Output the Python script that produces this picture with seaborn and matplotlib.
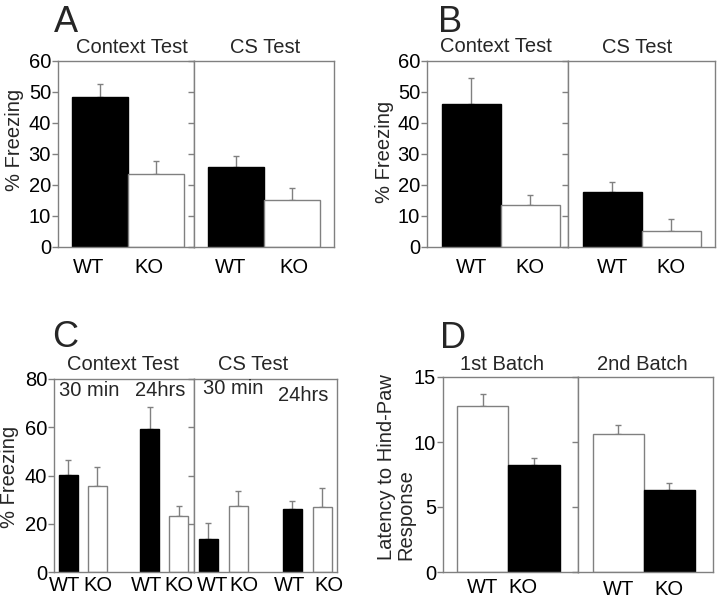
import numpy as np
import pandas as pd
import matplotlib
matplotlib.use("Agg")
import matplotlib.pyplot as plt
import seaborn as sns

# ---------------- data ----------------
genotypes2 = ["WT", "KO"]
genotypes4 = ["WT", "KO", "WT", "KO"]

a_context_vals = [48.4, 23.4]
a_context_err = [4.3, 4.2]
a_cs_vals = [25.8, 15.0]
a_cs_err = [3.5, 3.9]

b_context_vals = [46.0, 13.4]
b_context_err = [8.4, 3.5]
b_cs_vals = [17.6, 5.1]
b_cs_err = [3.4, 3.8]

c_context_vals = [40.1, 35.8, 59.4, 23.2]
c_context_err = [6.2, 7.9, 8.8, 4.2]
c_cs_vals = [13.6, 27.4, 26.3, 26.8]
c_cs_err = [6.7, 6.2, 3.2, 8.0]

d_batch1_vals = [12.75, 8.25]
d_batch1_err = [0.95, 0.5]
d_batch2_vals = [10.65, 6.33]
d_batch2_err = [0.62, 0.52]

# ---------------- style ----------------
sns.set_theme(style="white")
plt.rcParams["font.family"] = ["Liberation Sans", "DejaVu Sans"]
GRAY = "#808080"
FS = 14.5

W, H = 720, 604
fig = plt.figure(figsize=(W / 100, H / 100), dpi=100)


def add_ax(l, r, t, b):
    return fig.add_axes([l / W, 1 - b / H, (r - l) / W, (b - t) / H])


def draw(ax, vals, errs, genos, pos, width, palette, xlim, ylim, yticks,
         show_labels, title, title_x, title_pad, xpad, label_shift=None):
    df = pd.DataFrame({"x": pos, "y": vals, "g": genos})
    sns.barplot(data=df, x="x", y="y", hue="g", palette=palette,
                native_scale=True, dodge=False, width=width, errorbar=None,
                edgecolor="black", linewidth=1.0, legend=False, ax=ax,
                zorder=2)
    for p in ax.patches:
        fc = p.get_facecolor()
        if fc[0] > 0.5:
            p.set_edgecolor(GRAY)
    ax.errorbar(pos, vals, yerr=[np.zeros(len(vals)), errs], fmt="none",
                ecolor=GRAY, elinewidth=1.0, capsize=2.5, capthick=1.0,
                zorder=1.5)
    ax.set_xlim(*xlim)
    ax.set_ylim(*ylim)
    ax.set_yticks(yticks)
    tick_pos = np.asarray(pos, dtype=float)
    if label_shift is not None:
        tick_pos = tick_pos + np.asarray(label_shift)
    ax.set_xticks(tick_pos)
    ax.set_xticklabels(genos)
    ax.set_xlabel("")
    ax.set_ylabel("")
    ax.tick_params(axis="x", length=0, labelsize=FS, pad=xpad, colors="black")
    ax.tick_params(axis="y", left=True, direction="out", length=4, width=1,
                   color=GRAY, labelsize=FS, pad=1, labelleft=show_labels,
                   labelcolor="black")
    for s in ax.spines.values():
        s.set_visible(True)
        s.set_color(GRAY)
        s.set_linewidth(1.0)
    ax.set_title(title, fontsize=FS, x=title_x, pad=title_pad)


pal_ab = {"WT": "black", "KO": "white"}
pos2 = [0, 1]
pos4 = [0, 1, 2.8, 3.8]

# ---------------- Panel A ----------------
a1 = add_ax(58, 194, 61, 247)
a2 = add_ax(194, 334, 61, 247)
draw(a1, a_context_vals, a_context_err, genotypes2, pos2, 1.0, pal_ab,
     (-0.75, 1.68), (0, 60), np.arange(0, 61, 10), True, "Context Test", 0.54, 6, 8,
     [-0.2, -0.12])
draw(a2, a_cs_vals, a_cs_err, genotypes2, pos2, 1.0, pal_ab,
     (-0.75, 1.75), (0, 60), np.arange(0, 61, 10), False, "CS Test", 0.51, 6, 8,
     [-0.1, 0.03])
fig.text(15 / W, 1 - 140 / H, "% Freezing", rotation=90, ha="center",
         va="center", fontsize=FS)
fig.text(54 / W, 1 - 32 / H, "A", fontsize=26, va="baseline", ha="left")

# ---------------- Panel B ----------------
b1 = add_ax(427, 568, 61, 247)
b2 = add_ax(568, 715, 61, 247)
draw(b1, b_context_vals, b_context_err, genotypes2, pos2, 1.0, pal_ab,
     (-0.75, 1.64), (0, 60), np.arange(0, 61, 10), True, "Context Test", 0.49, 6.5, 8)
draw(b2, b_cs_vals, b_cs_err, genotypes2, pos2, 1.0, pal_ab,
     (-0.75, 1.74), (0, 60), np.arange(0, 61, 10), False, "CS Test", 0.47, 6, 8)
fig.text(385 / W, 1 - 152 / H, "% Freezing", rotation=90, ha="center",
         va="center", fontsize=FS)
fig.text(438 / W, 1 - 32 / H, "B", fontsize=26, va="baseline", ha="left")

# ---------------- Panel C ----------------
c1 = add_ax(54, 194, 379, 572)
c2 = add_ax(194, 337, 379, 572)
draw(c1, c_context_vals, c_context_err, genotypes4, pos4, 0.65, pal_ab,
     (-0.5, 4.33), (0, 80), np.arange(0, 81, 20), True, "Context Test", 0.49, 6.5, 3,
     [-0.12, 0.0, -0.09, 0.0])
draw(c2, c_cs_vals, c_cs_err, genotypes4, pos4, 0.65, pal_ab,
     (-0.48, 4.29), (0, 80), np.arange(0, 81, 20), False, "CS Test", 0.41, 6.5, 3,
     [0.13, 0.18, -0.08, 0.22])
c1.text(0.25, 0.938, "30 min", transform=c1.transAxes, ha="center", va="center", fontsize=FS)
c1.text(0.757, 0.938, "24hrs", transform=c1.transAxes, ha="center", va="center", fontsize=FS)
c2.text(0.273, 0.95, "30 min", transform=c2.transAxes, ha="center", va="center", fontsize=FS)
c2.text(0.762, 0.917, "24hrs", transform=c2.transAxes, ha="center", va="center", fontsize=FS)
fig.text(10 / W, 1 - 477 / H, "% Freezing", rotation=90, ha="center",
         va="center", fontsize=FS)
fig.text(52 / W, 1 - 347 / H, "C", fontsize=26, va="baseline", ha="left")

# ---------------- Panel D ----------------
pal_d = {"WT": "white", "KO": "black"}
d1 = add_ax(443, 578, 377, 572)
d2 = add_ax(578, 713, 377, 572)
draw(d1, d_batch1_vals, d_batch1_err, genotypes2, pos2, 1.0, pal_d,
     (-0.77, 1.85), (0, 15), np.arange(0, 16, 5), True, "1st Batch", 0.44, 5, 4,
     [0.0, -0.22])
draw(d2, d_batch2_vals, d_batch2_err, genotypes2, pos2, 1.0, pal_d,
     (-0.79, 1.86), (0, 15), np.arange(0, 16, 5), False, "2nd Batch", 0.48, 5, 6)
fig.text(396 / W, 1 - 467 / H, "Latency to Hind-Paw\nResponse", rotation=90,
         ha="center", va="center", multialignment="left", fontsize=FS,
         linespacing=1.0)
fig.text(440 / W, 1 - 348 / H, "D", fontsize=26, va="baseline", ha="left")

fig.savefig("out.png", dpi=100)
